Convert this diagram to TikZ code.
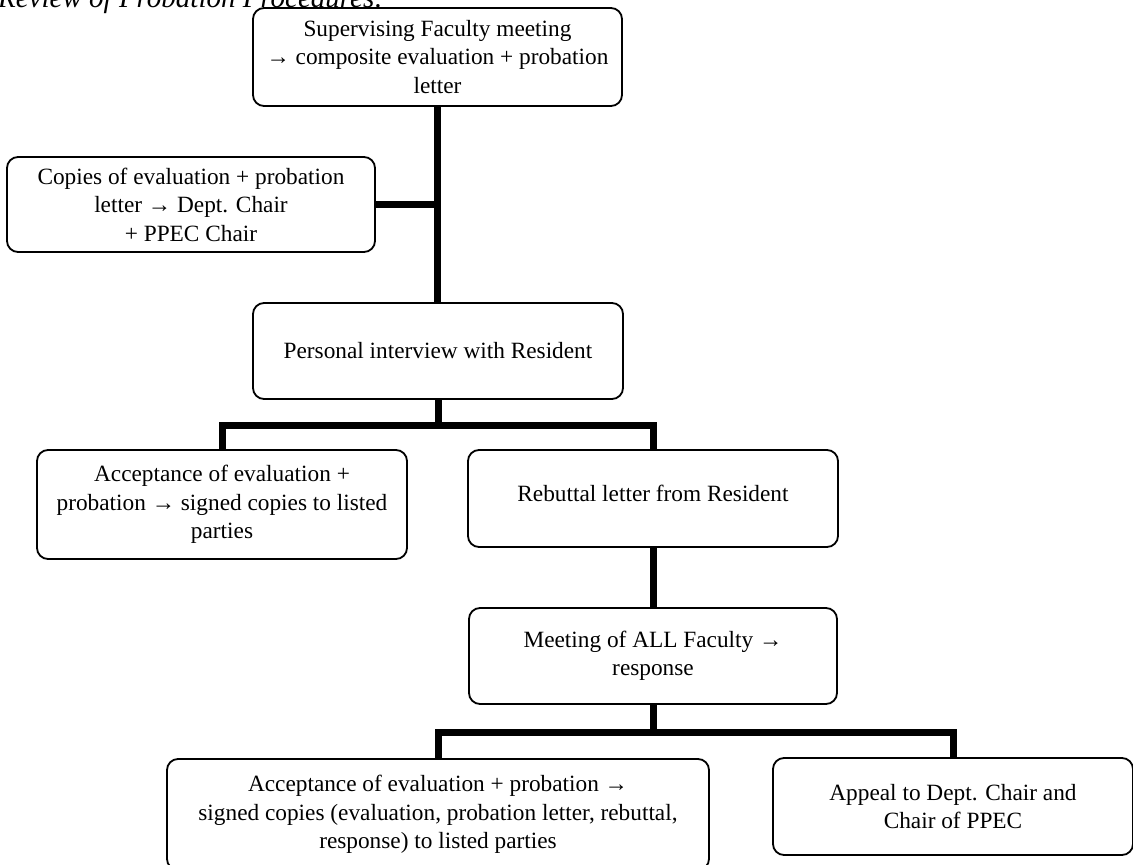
\documentclass[tikz,border=0pt]{standalone}
\usepackage{fontspec}
\setmainfont{Liberation Serif}
\begin{document}
\begin{tikzpicture}[x=1pt,y=-1pt,
  box/.style={draw=black, line width=1.8pt, fill=white, rounded corners=11pt,
    align=center, inner sep=0pt, font=\fontsize{23.3}{28.5}\selectfont},
  link/.style={line width=7pt, draw=black}]
\useasboundingbox (0,0) rectangle (1133,865);
\node[anchor=base west, inner sep=0pt, font=\fontsize{29}{34}\selectfont\itshape] (title) at (-2,7) {Review of Probation Procedures:};
\node[box, minimum width=369pt, minimum height=98pt] (b1) at (437.5,57)
  {Supervising Faculty meeting\\ → composite evaluation + probation\\ letter};
\node[box, minimum width=368pt, minimum height=95pt] (b2) at (191,204.5)
  {Copies of evaluation + probation\\ letter → Dept. Chair\\ + PPEC Chair};
\node[box, minimum width=370pt, minimum height=96pt] (b3) at (438,351)
  {Personal interview with Resident};
\node[box, minimum width=370pt, minimum height=109pt] (b4) at (222,504.5)
  {Acceptance of evaluation +\\ probation → signed copies to listed\\ parties};
\node[box, minimum width=370pt, minimum height=97pt] (b5) at (653,498.5)
  {Rebuttal letter from Resident\\[-18pt]\mbox{}};
\node[box, minimum width=368pt, minimum height=96pt] (b6) at (653,656)
  {Meeting of ALL Faculty →\\ response};
\node[box, minimum width=542pt, minimum height=111pt] (b7) at (438,814.5)
  {Acceptance of evaluation + probation →\\ signed copies (evaluation, probation letter, rebuttal,\\ response) to listed parties};
\node[box, minimum width=360pt, minimum height=97pt] (b8) at (953,806.5)
  {Appeal to Dept. Chair and\\ Chair of PPEC};
\coordinate (j1) at (438,425);
\coordinate (j2) at (653,732);
% connectors
\draw[link] (b1.south) -- (b1.south |- b3.north);
\draw[link] (b2.east) -- (b2.east -| b1.south);
\draw[link] (b3.south) -- (j1);
\draw[link] (b4.north) -- (b4.north |- j1) -- (b5.north |- j1) -- (b5.north);
\draw[link] (b5.south) -- (b5.south |- b6.north);
\draw[link] (b6.south) -- (j2);
\draw[link] (b7.north) -- (b7.north |- j2) -- (b8.north |- j2) -- (b8.north);
\end{tikzpicture}
\end{document}
